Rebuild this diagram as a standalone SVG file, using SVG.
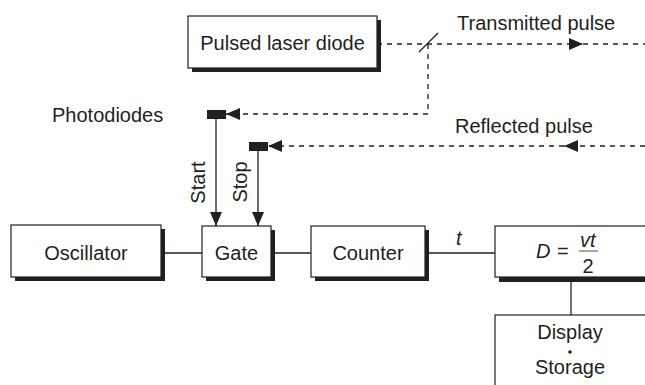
<svg xmlns="http://www.w3.org/2000/svg" width="645" height="385" viewBox="0 0 645 385">
<style>
text{font-family:"Liberation Sans",Arial,sans-serif;font-size:20px;fill:#231f20}
.it{font-style:italic}
.box{fill:#fff;stroke:#231f20;stroke-width:1.2}
.sh{fill:#231f20}
.ln{fill:none;stroke:#231f20;stroke-width:1.3}
.dash{fill:none;stroke:#231f20;stroke-width:1.3;stroke-dasharray:5,5}
.pd{fill:#231f20}
</style>
<defs>
<marker id="ah" markerUnits="userSpaceOnUse" markerWidth="14" markerHeight="14" refX="14" refY="7" orient="auto">
<path d="M0,1 L14,7 L0,13 z" fill="#231f20"/>
</marker>
</defs>
<rect width="645" height="385" fill="#fff"/>

<g id="connectors">
<path class="dash" d="M377,44 H583" marker-end="url(#ah)"/>
<path class="dash" d="M583,44 H645"/>
<line class="ln" x1="419" y1="52" x2="438" y2="33"/>
<path class="dash" d="M428,44 V114 H226" marker-end="url(#ah)"/>
<path class="dash" d="M645,146 H564" marker-end="url(#ah)"/>
<path class="dash" d="M564,146 H268" marker-end="url(#ah)"/>
<path class="ln" d="M216,119 V226" marker-end="url(#ah)"/>
<path class="ln" d="M258,151 V226" marker-end="url(#ah)"/>
<line class="ln" x1="165" y1="253" x2="202" y2="253"/>
<line class="ln" x1="275" y1="253" x2="311" y2="253"/>
<line class="ln" x1="429" y1="253" x2="495" y2="253"/>
<line class="ln" x1="571" y1="282" x2="571" y2="315"/>
</g>

<g id="laser">
<rect class="sh" x="192" y="20" width="189" height="52"/>
<rect class="box" x="188" y="16" width="189" height="52"/>
<text x="282.5" y="50" text-anchor="middle">Pulsed laser diode</text>
</g>

<g id="labels">
<text x="457" y="30">Transmitted pulse</text>
<text x="455" y="133">Reflected pulse</text>
<text x="52" y="122">Photodiodes</text>
<text transform="translate(205,182.5) rotate(-90)" text-anchor="middle">Start</text>
<text transform="translate(247,182) rotate(-90)" text-anchor="middle">Stop</text>
<text class="it" x="456" y="245">t</text>
</g>

<g id="photodiode1">
<rect class="pd" x="207" y="110" width="19" height="9"/>
</g>
<g id="photodiode2">
<rect class="pd" x="249" y="142" width="19" height="9"/>
</g>

<g id="oscillator">
<rect class="sh" x="15" y="229" width="150" height="52"/>
<rect class="box" x="11" y="225" width="150" height="52"/>
<text x="86" y="260" text-anchor="middle">Oscillator</text>
</g>

<g id="gate">
<rect class="sh" x="206" y="230" width="69" height="51"/>
<rect class="box" x="202" y="226" width="69" height="51"/>
<text x="236.5" y="260" text-anchor="middle">Gate</text>
</g>

<g id="counter">
<rect class="sh" x="315" y="230" width="114" height="51"/>
<rect class="box" x="311" y="226" width="114" height="51"/>
<text x="368" y="260" text-anchor="middle">Counter</text>
</g>

<g id="distance">
<rect class="sh" x="499" y="231" width="150" height="51"/>
<rect class="box" x="495" y="226" width="152" height="51"/>
<text class="it" x="536" y="258">D</text>
<text x="557" y="258">=</text>
<text class="it" x="580" y="247">vt</text>
<line x1="579" y1="251" x2="598" y2="251" stroke="#231f20" stroke-width="0.8"/>
<text x="588" y="273" text-anchor="middle">2</text>
</g>

<g id="display">
<rect class="box" x="495" y="315" width="152" height="75"/>
<text x="570" y="339" text-anchor="middle">Display</text>
<circle cx="570" cy="352" r="1.8" fill="#231f20"/>
<text x="570" y="374" text-anchor="middle">Storage</text>
</g>
</svg>
